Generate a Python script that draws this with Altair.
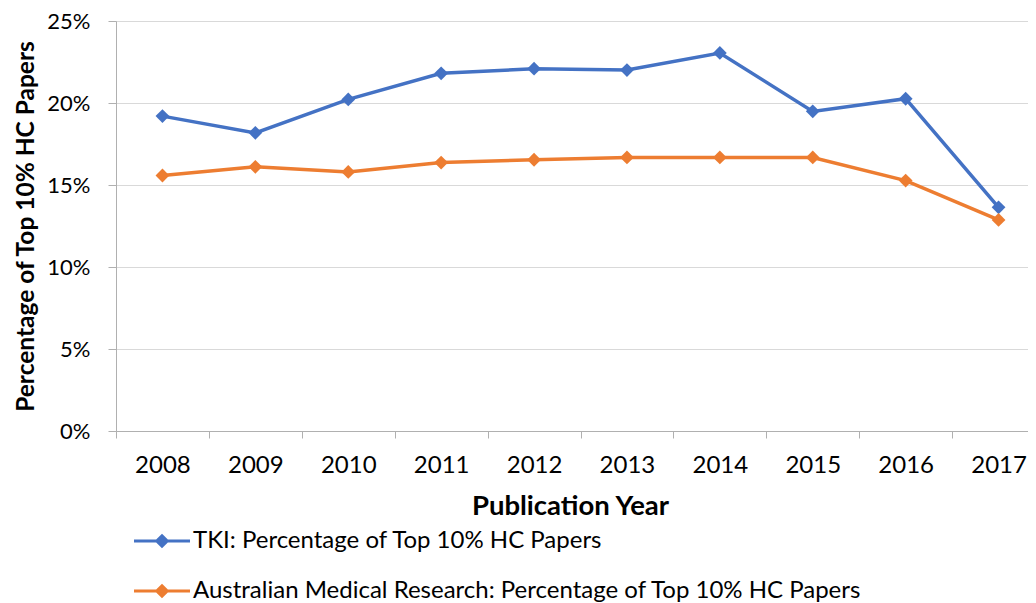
import altair as alt
import pandas as pd

years = [2008, 2009, 2010, 2011, 2012, 2013, 2014, 2015, 2016, 2017]
tki = [19.20, 18.18, 20.22, 21.81, 22.09, 22.01, 23.05, 19.49, 20.26, 13.64]
amr = [15.58, 16.11, 15.80, 16.37, 16.54, 16.68, 16.68, 16.68, 15.27, 12.87]
series_names = [
    "TKI: Percentage of Top 10% HC Papers",
    "Australian Medical Research: Percentage of Top 10% HC Papers",
]
colors = ["#4472C4", "#ED7D31"]
y_ticks = [0, 0.05, 0.10, 0.15, 0.20, 0.25]

rows = []
for name, vals in zip(series_names, [tki, amr]):
    for yr, v in zip(years, vals):
        rows.append({"year": str(yr), "series": name, "value": v / 100})
df = pd.DataFrame(rows)

FONT = "Lato"
year_order = [str(y) for y in years]

x_enc = alt.X(
    "year:O",
    sort=year_order,
    scale=alt.Scale(type="band", range=[0, 929], paddingInner=0, paddingOuter=0),
    axis=alt.Axis(
        title="Publication Year",
        tickBand="extent",
        tickSize=7,
        tickColor="#b0b0b0",
        domainColor="#b0b0b0",
        labelAngle=0,
        labelFont=FONT,
        labelFontSize=24,
        labelColor="#000000",
        labelPadding=15,
        titleFont=FONT,
        titleFontSize=27.5,
        titleFontWeight="bold",
        titleColor="#000000",
        titlePadding=15,
        titleX=454,
        grid=False,
    ),
)
y_enc = alt.Y(
    "value:Q",
    scale=alt.Scale(domain=[0, 0.25], nice=False),
    axis=alt.Axis(
        title="Percentage of Top 10% HC Papers",
        values=y_ticks,
        format=".0%",
        tickSize=8,
        tickColor="#b0b0b0",
        domainColor="#b0b0b0",
        gridColor="#d9d9d9",
        labelFont=FONT,
        labelFontSize=22,
        labelColor="#000000",
        labelPadding=18,
        titleFont=FONT,
        titleFontSize=24.5,
        titleFontWeight="bold",
        titleColor="#000000",
        titlePadding=8,
    ),
)

color_scale = alt.Scale(domain=series_names, range=colors)

legend_path = "M-4,0L4,0M0,-0.75L0.75,0L0,0.75L-0.75,0Z"
leg = alt.Legend(
    title=None,
    orient="none",
    legendX=34,
    legendY=508,
    direction="vertical",
    symbolType=legend_path,
    symbolSize=196,
    symbolStrokeWidth=3,
    labelFont=FONT,
    labelFontSize=24,
    labelColor="#000000",
    labelOffset=19,
    labelLimit=1000,
    rowPadding=26,
)

lines = alt.Chart(df).mark_line(strokeWidth=3.5).encode(
    x=x_enc,
    y=y_enc,
    color=alt.Color("series:N", scale=color_scale, legend=leg),
)

points = alt.Chart(df).mark_point(filled=True, shape="diamond", size=190, opacity=1).encode(
    x=x_enc,
    y=y_enc,
    color=alt.Color("series:N", scale=color_scale, legend=leg),
)

chart = alt.layer(lines, points).properties(
    width=912,
    height=410,
    autosize=alt.AutoSizeParams(type="none"),
    padding={"left": 108, "top": 13, "right": 0, "bottom": 173},
).configure_view(stroke=None).configure(background="white")

chart.save("out.html", embed_options={"renderer": "svg", "actions": False})
